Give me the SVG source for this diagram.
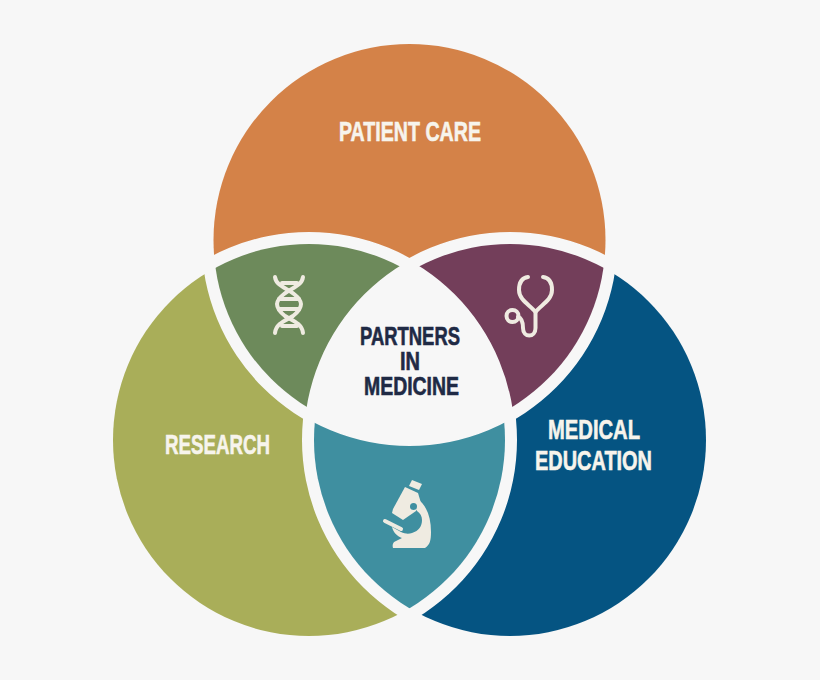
<svg xmlns="http://www.w3.org/2000/svg" width="820" height="680" viewBox="0 0 820 680">
<style>
.lbl{font-family:"Liberation Sans",Arial,sans-serif;font-weight:700;text-anchor:start;stroke-width:0.6;paint-order:stroke}
.w{fill:#f7f4ec;stroke:#f7f4ec;font-size:28px}
.d{fill:#1f2a45;stroke:#1f2a45;font-size:25px}
.ic{fill:none;stroke:#efebe1;stroke-width:4;stroke-linecap:round;stroke-linejoin:round}
.is{fill:#efebe1;stroke:none}
</style>
<defs>
<clipPath id="inT"><circle cx="409.500" cy="240" r="196"/></clipPath>
<clipPath id="inL"><circle cx="309" cy="440" r="196"/></clipPath>
<clipPath id="inR"><circle cx="510" cy="440" r="196"/></clipPath>
<clipPath id="notT"><path clip-rule="evenodd" d="M0 0H820V680H0Z M201.500 240a208 208 0 1 0 416 0a208 208 0 1 0 -416 0Z"/></clipPath>
<clipPath id="notL"><path clip-rule="evenodd" d="M0 0H820V680H0Z M101 440a208 208 0 1 0 416 0a208 208 0 1 0 -416 0Z"/></clipPath>
<clipPath id="notR"><path clip-rule="evenodd" d="M0 0H820V680H0Z M302 440a208 208 0 1 0 416 0a208 208 0 1 0 -416 0Z"/></clipPath>
<clipPath id="notTi"><path clip-rule="evenodd" d="M0 0H820V680H0Z M203.500 240a206 206 0 1 0 412 0a206 206 0 1 0 -412 0Z"/></clipPath>
<clipPath id="notLi"><path clip-rule="evenodd" d="M0 0H820V680H0Z M103 440a206 206 0 1 0 412 0a206 206 0 1 0 -412 0Z"/></clipPath>
<clipPath id="notRi"><path clip-rule="evenodd" d="M0 0H820V680H0Z M304 440a206 206 0 1 0 412 0a206 206 0 1 0 -412 0Z"/></clipPath>
</defs>
<rect width="820" height="680" fill="#f7f7f7"/>
<g id="patient-care">
<g clip-path="url(#notL)"><g clip-path="url(#notR)"><circle cx="409.500" cy="240" r="196" fill="#d48248"/></g></g>
<text class="lbl w" x="339" y="141" textLength="142" lengthAdjust="spacingAndGlyphs">PATIENT CARE</text>
</g>
<g id="research">
<g clip-path="url(#notT)"><g clip-path="url(#notR)"><circle cx="309" cy="440" r="196" fill="#a9ae59"/></g></g>
<text class="lbl w" x="165" y="454" textLength="105" lengthAdjust="spacingAndGlyphs">RESEARCH</text>
</g>
<g id="medical-education">
<g clip-path="url(#notT)"><g clip-path="url(#notL)"><circle cx="510" cy="440" r="196" fill="#055482"/></g></g>
<text class="lbl w" x="548" y="439" textLength="92" lengthAdjust="spacingAndGlyphs">MEDICAL</text>
<text class="lbl w" x="535" y="470" textLength="117" lengthAdjust="spacingAndGlyphs">EDUCATION</text>
</g>
<g id="dna-lens">
<g clip-path="url(#notRi)"><g clip-path="url(#inL)"><circle cx="409.500" cy="240" r="196" fill="#6d8a5b"/></g></g>
<path class="ic" d="M303 277C302 286 291 288 284 294C279 298 277 301 277 304C277 308 280 312 285 316C291 320 302 323 303 333"/>
<path class="ic" d="M275 277C276 286 287 288 294 294C299 298 301 301 301 304C301 308 298 312 293 316C287 320 276 323 275 333"/>
<path class="ic" d="M282 283H297M279 299H299M279 309H299M282 326H297" stroke-width="2.500"/>
</g>
<g id="stethoscope-lens">
<g clip-path="url(#notLi)"><g clip-path="url(#inT)"><circle cx="510" cy="440" r="196" fill="#733e5a"/></g></g>
<path class="ic" d="M528 277C521 278 519 284 519 290C519 300 530 305 535.500 312C541 305 552 300 552 290C552 284 550 278 543 277"/>
<path class="ic" d="M535.500 312V328C535.500 338 523 338 523 328C523 321 521 318 518 317"/>
<circle class="ic" cx="512.500" cy="316" r="6"/>
</g>
<g id="microscope-lens">
<g clip-path="url(#notTi)"><g clip-path="url(#inL)"><circle cx="510" cy="440" r="196" fill="#3f8fa0"/></g></g>
<path class="is" d="M412 480L422 484L419 490L409 486Z"/>
<path class="is" d="M405 487L418 493L421 503L416 511L403 520L392 513L393 509Z"/>
<path class="is" d="M416 498C426 504 431 516 431 532C431 540 430 545 425 548H393C392 545 393 542 396 541L402 538C397 536 393 532 392 527L401 532C405 534 409 534 412 533C419 531 422 526 422 520C422 516 420 513 417 511Z"/>
<path class="ic" d="M385 521L401 529" stroke-width="5.500"/>
<circle cx="413.500" cy="506.500" r="3.500" fill="#3f8fa0"/>
</g>
<g id="partners-in-medicine">
<text class="lbl d" x="360" y="345" textLength="100" lengthAdjust="spacingAndGlyphs">PARTNERS</text>
<text class="lbl d" x="400" y="370" textLength="20" lengthAdjust="spacingAndGlyphs">IN</text>
<text class="lbl d" x="364" y="395" textLength="95" lengthAdjust="spacingAndGlyphs">MEDICINE</text>
</g>
<g id="connectors"/>
</svg>
